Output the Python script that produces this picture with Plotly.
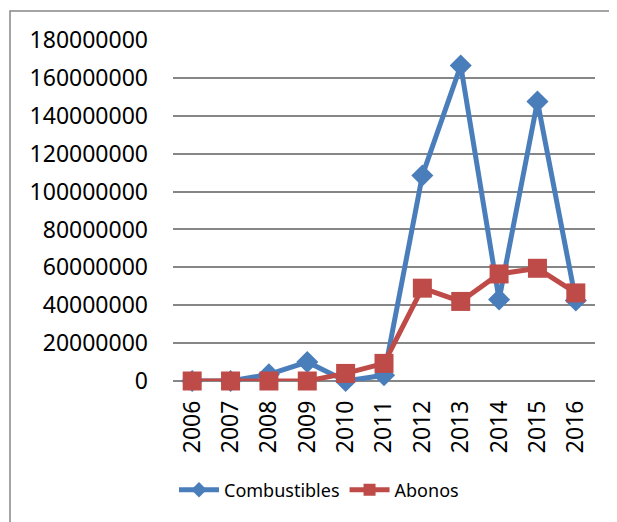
import plotly.graph_objects as go

years = ["2006", "2007", "2008", "2009", "2010", "2011", "2012", "2013", "2014", "2015", "2016"]
combustibles = [0, 0, 3500000, 10000000, 0, 3000000, 108500000, 166500000, 43000000, 147500000, 42500000]
abonos = [0, 0, 0, 0, 4000000, 9300000, 49000000, 42000000, 56500000, 59500000, 46500000]
y_ticks = [0, 20000000, 40000000, 60000000, 80000000, 100000000, 120000000, 140000000, 160000000, 180000000]

# page body has an 8px margin; coordinates below are window pixels
OFF = 8
W, H = 617, 522
L, R, T, B = 173 - OFF, 30, 40 - OFF, 149
pw, ph = W - L - R, H - T - B

fig = go.Figure()
fig.add_trace(go.Scatter(
    x=years, y=combustibles, name="Combustibles", mode="lines+markers",
    line=dict(color="#4A7EBB", width=5),
    marker=dict(symbol="diamond", size=17, color="#4A7EBB"),
    cliponaxis=False,
))
fig.add_trace(go.Scatter(
    x=years, y=abonos, name="Abonos", mode="lines+markers",
    line=dict(color="#BE4B48", width=5),
    marker=dict(symbol="square", size=19, color="#BE4B48"),
    cliponaxis=False,
))

def px_x(p):
    return (p - OFF - L) / pw

def px_y(p):
    return (H - B - (p - OFF)) / ph

fig.add_shape(type="rect", xref="paper", yref="paper",
              x0=px_x(10), x1=px_x(660), y0=px_y(11), y1=px_y(560),
              line=dict(color="#868686", width=1.5), layer="below")

fig.update_layout(
    width=W, height=H,
    margin=dict(l=L, r=R, t=T, b=B, autoexpand=False),
    paper_bgcolor="white", plot_bgcolor="white",
    font=dict(family="Noto Sans", color="#000000"),
    showlegend=True,
    legend=dict(orientation="h", x=px_x(319), xanchor="center",
                y=px_y(490), yanchor="middle", itemsizing="constant",
                font=dict(size=18, family="Noto Sans"),
                itemwidth=40, tracegroupgap=0),
    xaxis=dict(type="category", range=[-0.5, 10.5], showgrid=False,
               showline=False, zeroline=False, ticks="",
               tickangle=-90, ticklabelstandoff=14, tickfont=dict(size=23)),
    yaxis=dict(range=[0, 180000000], tickvals=y_ticks,
               ticktext=[str(v) for v in y_ticks],
               showgrid=True, gridcolor="#868686", gridwidth=1.5,
               zeroline=True, zerolinecolor="#868686", zerolinewidth=1.5,
               showline=False, ticks="", ticklabelstandoff=24,
               tickfont=dict(size=23)),
)

fig.write_html("out.html")
